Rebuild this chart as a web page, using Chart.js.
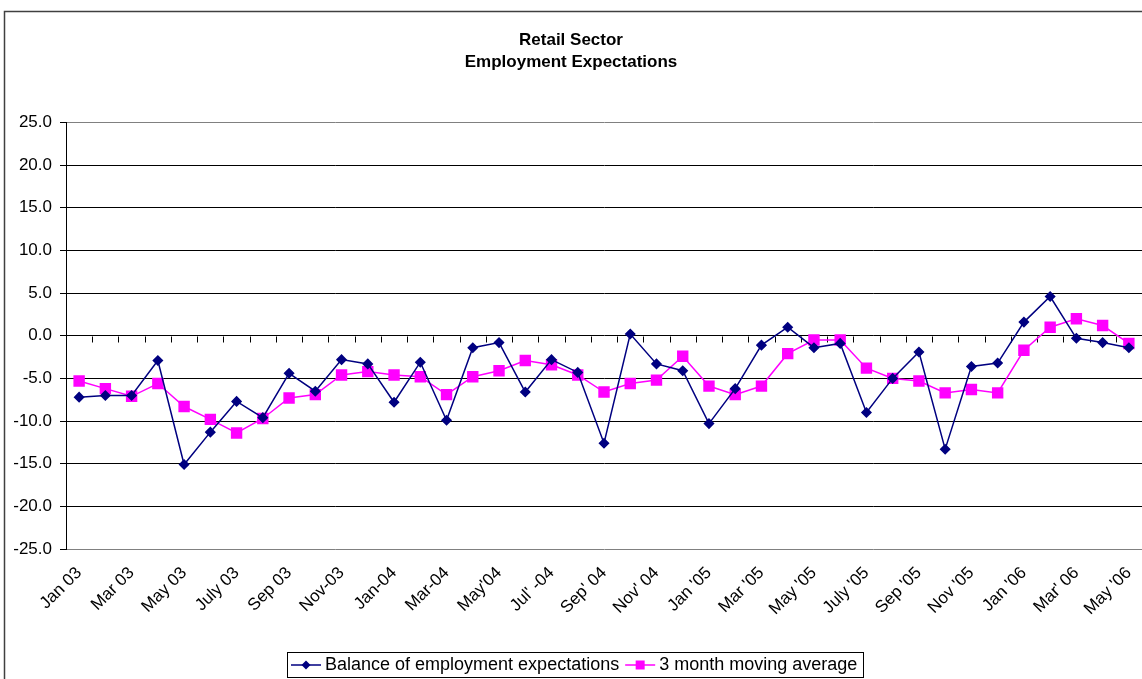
<!DOCTYPE html>
<html>
<head>
<meta charset="utf-8">
<script src="https://cdn.jsdelivr.net/npm/chart.js@4.4.1/dist/chart.umd.min.js"></script>
<style>
  html, body { margin: 0; padding: 0; background: #fff; overflow: hidden; }
  canvas { display: block; }
</style>
</head>
<body>
<canvas id="chart" width="1142" height="679"></canvas>
<script>
// one entry per month; only every second one is shown on the axis
const months = [
  "Jan 03", "Feb 03", "Mar 03", "Apr 03", "May 03", "Jun 03", "July 03", "Aug 03",
  "Sep 03", "Oct 03", "Nov-03", "Dec-03", "Jan-04", "Feb-04", "Mar-04", "Apr-04",
  "May'04", "Jun'04", "Jul' -04", "Aug' 04", "Sep' 04", "Oct' 04", "Nov' 04", "Dec' 04",
  "Jan '05", "Feb '05", "Mar '05", "Apr '05", "May '05", "Jun '05", "July '05", "Aug '05",
  "Sep '05", "Oct '05", "Nov '05", "Dec '05", "Jan '06", "Feb '06", "Mar' 06", "Apr '06",
  "May '06"
];

const balance = [
  -7.2, -7.0, -7.0, -2.9, -15.1, -11.3, -7.7, -9.6, -4.4, -6.5,
  -2.8, -3.3, -7.8, -3.1, -9.9, -1.4, -0.8, -6.6, -2.8, -4.3,
  -12.6, 0.2, -3.3, -4.1, -10.3, -6.2, -1.1, 1.0, -1.4, -0.9,
  -9.0, -5.0, -1.9, -13.3, -3.6, -3.2, 1.6, 4.6, -0.3, -0.8,
  -1.4
];

const movingAverage = [
  -5.3, -6.2, -7.1, -5.6, -8.3, -9.8, -11.4, -9.7, -7.3, -6.9,
  -4.6, -4.2, -4.6, -4.8, -6.9, -4.8, -4.1, -2.9, -3.4, -4.6,
  -6.6, -5.6, -5.2, -2.4, -5.9, -6.9, -5.9, -2.1, -0.5, -0.5,
  -3.8, -5.0, -5.3, -6.7, -6.3, -6.7, -1.7, 1.0, 2.0, 1.2,
  -0.9
];

const FONT = "'Liberation Sans', Arial, sans-serif";
Chart.defaults.font.family = FONT;
Chart.defaults.color = "#000";

// tick marks hang below the zero line, between the categories
const zeroTicksPlugin = {
  id: "zeroTicks",
  beforeDatasetsDraw(chart) {
    const { ctx, scales } = chart;
    const x = scales.x;
    const y0 = Math.round(scales.y.getPixelForValue(0)) + 0.5;
    const half = (x.getPixelForValue(1) - x.getPixelForValue(0)) / 2;
    ctx.save();
    ctx.strokeStyle = "#000";
    ctx.lineWidth = 1;
    ctx.beginPath();
    for (let i = 0; i < months.length; i++) {
      const px = Math.round(x.getPixelForValue(i) + half) + 0.5;
      ctx.moveTo(px, y0);
      ctx.lineTo(px, y0 + 6);
    }
    ctx.stroke();
    ctx.restore();
  },
};

// boxed legend with line + marker, drawn like the spreadsheet one
const boxLegendPlugin = {
  id: "boxLegend",
  afterDraw(chart) {
    const { ctx } = chart;
    ctx.save();
    ctx.font = `18px ${FONT}`;
    const sym = 30;
    const items = chart.data.datasets.map((ds) => ({
      ds,
      w: ctx.measureText(ds.label).width,
    }));
    const total = items.reduce((s, it) => s + sym + 4 + it.w + 6, 0) + 4;
    let x = Math.round(575 - total / 2);
    const top = 652;
    const h = 25;
    const cy = top + h / 2 + 0.5;

    ctx.fillStyle = "#fff";
    ctx.fillRect(x, top, total, h);
    ctx.strokeStyle = "#000";
    ctx.lineWidth = 1;
    ctx.strokeRect(x + 0.5, top + 0.5, Math.round(total), h);

    x += 4;
    items.forEach(({ ds, w }) => {
      ctx.strokeStyle = ds.borderColor;
      ctx.lineWidth = 1.5;
      ctx.beginPath();
      ctx.moveTo(x, cy);
      ctx.lineTo(x + sym, cy);
      ctx.stroke();
      const mx = x + sym / 2;
      ctx.fillStyle = ds.pointBackgroundColor;
      ctx.beginPath();
      if (ds.pointStyle === "rectRot") {
        ctx.moveTo(mx, cy - 4.5);
        ctx.lineTo(mx + 4.5, cy);
        ctx.lineTo(mx, cy + 4.5);
        ctx.lineTo(mx - 4.5, cy);
        ctx.closePath();
      } else {
        ctx.rect(mx - 4.5, cy - 4.5, 9, 9);
      }
      ctx.fill();
      ctx.fillStyle = "#000";
      ctx.textBaseline = "middle";
      ctx.fillText(ds.label, x + sym + 4, cy);
      x += sym + 4 + w + 6;
    });
    ctx.restore();
  },
};

const framePlugin = {
  id: "frame",
  afterDraw(chart) {
    const { ctx } = chart;
    ctx.save();
    ctx.strokeStyle = "#404040";
    ctx.lineWidth = 1.5;
    ctx.strokeRect(4.5, 11.5, 2000, 2000);
    ctx.restore();
  },
};

new Chart(document.getElementById("chart"), {
  type: "line",
  data: {
    labels: months,
    datasets: [
      {
        label: "Balance of employment expectations",
        data: balance,
        borderColor: "#000080",
        backgroundColor: "#000080",
        pointBackgroundColor: "#000080",
        pointBorderColor: "#000080",
        borderWidth: 1.5,
        pointStyle: "rectRot",
        pointRadius: 4.5,
        tension: 0,
      },
      {
        label: "3 month moving average",
        data: movingAverage,
        borderColor: "#ff00ff",
        backgroundColor: "#ff00ff",
        pointBackgroundColor: "#ff00ff",
        pointBorderColor: "#ff00ff",
        borderWidth: 1.5,
        pointStyle: "rect",
        pointRadius: 7,
        tension: 0,
      },
    ],
  },
  options: {
    responsive: false,
    animation: false,
    layout: { padding: 0, autoPadding: false },
    plugins: {
      legend: { display: false },
      tooltip: { enabled: false },
      title: {
        display: true,
        text: ["Retail Sector", "Employment Expectations"],
        color: "#000",
        font: { size: 17, weight: "bold", lineHeight: 1.25 },
        padding: { top: 30, bottom: 50 },
      },
    },
    scales: {
      x: {
        offset: true,
        grid: { display: false },
        border: { display: false },
        ticks: {
          autoSkip: false,
          minRotation: 45,
          maxRotation: 45,
          padding: 6,
          font: { size: 17 },
          callback: (value, index) => (index % 2 === 0 ? months[index] : ""),
        },
        afterFit: (scale) => {
          scale.height = 130;
          scale.paddingRight = 0;
        },
      },
      y: {
        min: -25,
        max: 25,
        ticks: {
          stepSize: 5,
          padding: 8,
          font: { size: 17 },
          callback: (v) => v.toFixed(1),
        },
        grid: {
          color: (c) => (Math.abs(c.tick.value) === 25 ? "#808080" : "#000"),
          tickColor: "#000",
          tickLength: 6,
        },
        border: { display: true, color: "#000", width: 1 },
        afterFit: (scale) => {
          scale.width = 66;
        },
      },
    },
  },
  plugins: [zeroTicksPlugin, boxLegendPlugin, framePlugin],
});
</script>
</body>
</html>
